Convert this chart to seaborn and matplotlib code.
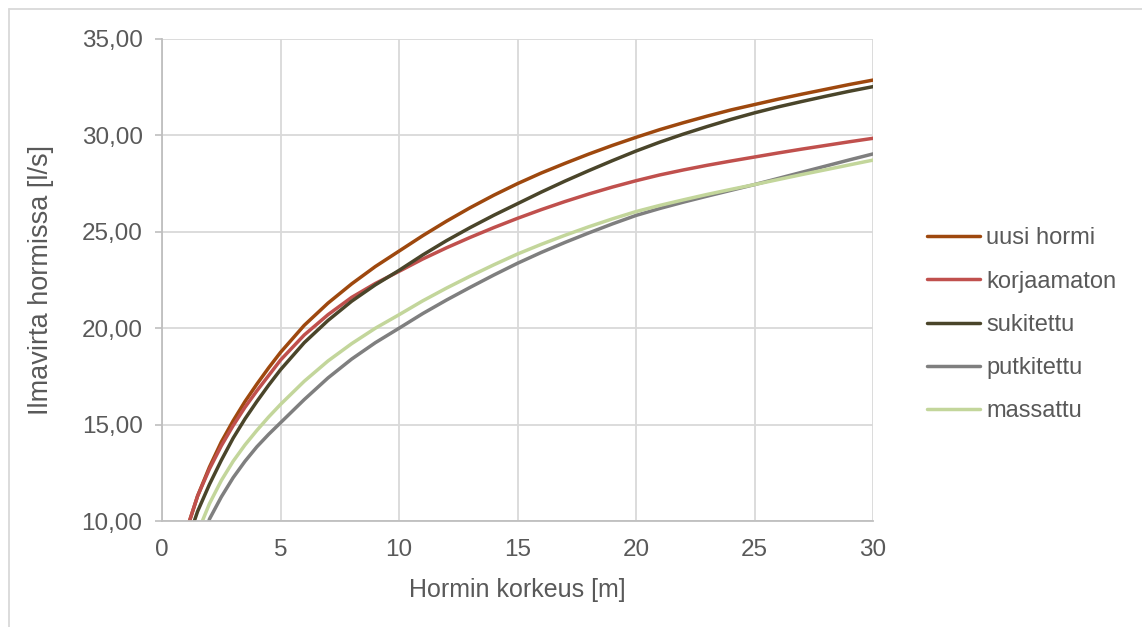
import matplotlib
matplotlib.use("Agg")
import pandas as pd
import matplotlib.pyplot as plt
import seaborn as sns
from matplotlib.lines import Line2D
from matplotlib.ticker import FuncFormatter, MultipleLocator

# Hormin korkeus [m]
height_m = [1, 1.5, 2, 2.5, 3, 3.5, 4, 4.5, 5, 6, 7, 8, 9, 10, 11, 12, 13, 14, 15,
            16, 17, 18, 19, 20, 21, 22, 23, 24, 25, 26, 27, 28, 29, 30]

# Ilmavirta hormissa [l/s]
uusi_hormi = [9.4, 11.3, 12.8, 14.1, 15.2, 16.2, 17.1, 17.95, 18.75, 20.15, 21.3, 22.3, 23.2,
              24.0, 24.8, 25.55, 26.25, 26.9, 27.5, 28.05, 28.55, 29.03, 29.48, 29.9,
              30.3, 30.66, 31.0, 31.32, 31.6, 31.88, 32.14, 32.39, 32.64, 32.87]
korjaamaton = [9.4, 11.3, 12.7, 13.9, 14.95, 15.9, 16.75, 17.55, 18.35, 19.65, 20.7, 21.6,
               22.32, 22.95, 23.59, 24.17, 24.71, 25.22, 25.7, 26.15, 26.57, 26.96, 27.32,
               27.65, 27.95, 28.21, 28.45, 28.67, 28.88, 29.09, 29.29, 29.48, 29.67, 29.85]
sukitettu = [8.7, 10.5, 11.9, 13.15, 14.3, 15.3, 16.2, 17.05, 17.85, 19.25, 20.4, 21.4, 22.25,
             23.0, 23.8, 24.54, 25.22, 25.86, 26.46, 27.06, 27.63, 28.17, 28.69, 29.19,
             29.65, 30.07, 30.46, 30.83, 31.17, 31.48, 31.76, 32.03, 32.29, 32.53]
putkitettu = [5.5, 8.0, 10.1, 11.25, 12.25, 13.1, 13.85, 14.5, 15.1, 16.3, 17.42, 18.4,
              19.25, 20.0, 20.76, 21.46, 22.12, 22.76, 23.37, 23.93, 24.45, 24.94, 25.41,
              25.85, 26.21, 26.54, 26.85, 27.15, 27.45, 27.77, 28.09, 28.41, 28.73, 29.04]
massattu = [7.3, 9.4, 10.9, 12.1, 13.1, 13.95, 14.7, 15.4, 16.05, 17.25, 18.3, 19.2, 20.0,
            20.7, 21.42, 22.08, 22.7, 23.29, 23.85, 24.35, 24.82, 25.26, 25.67, 26.05,
            26.37, 26.66, 26.94, 27.2, 27.45, 27.71, 27.97, 28.22, 28.47, 28.72]

series_names = ["uusi hormi", "korjaamaton", "sukitettu", "putkitettu", "massattu"]
series_values = [uusi_hormi, korjaamaton, sukitettu, putkitettu, massattu]
colors = ["#9E480E", "#C0504D", "#4A452A", "#7F7F7F", "#C3D69B"]

df = pd.concat(
    [pd.DataFrame({"x": height_m, "y": vals, "sarja": name})
     for name, vals in zip(series_names, series_values)],
    ignore_index=True,
)

sns.set_theme(style="white")
plt.rcParams["font.family"] = ["Liberation Sans", "DejaVu Sans"]
text_col = "#595959"

fig = plt.figure(figsize=(11.42, 6.27), dpi=100)
ax = fig.add_axes([0.1419, 0.169, 0.7645 - 0.1419, 0.9378 - 0.169])

sns.lineplot(data=df, x="x", y="y", hue="sarja", hue_order=series_names,
             palette=colors, linewidth=2.5, ax=ax, legend=True)

ax.set_xlim(0, 30)
ax.set_ylim(10, 35)
ax.xaxis.set_major_locator(MultipleLocator(5))
ax.yaxis.set_major_locator(MultipleLocator(5))
ax.yaxis.set_major_formatter(FuncFormatter(lambda v, p: f"{v:.2f}".replace(".", ",")))
ax.grid(True, color="#D9D9D9", linewidth=1.3)
ax.set_axisbelow(True)
for side in ["top", "right"]:
    ax.spines[side].set_visible(False)
for side in ["left", "bottom"]:
    ax.spines[side].set_color("#BFBFBF")
    ax.spines[side].set_linewidth(1.3)

ax.tick_params(axis="y", length=5, width=1.2, color="#BFBFBF", labelsize=17.5,
               labelcolor=text_col, pad=9, left=True)
ax.tick_params(axis="x", length=0, labelsize=17.5, labelcolor=text_col, pad=13)

ax.set_xlabel("Hormin korkeus [m]", fontsize=18, color=text_col, labelpad=12)
ax.set_ylabel("Ilmavirta hormissa [l/s]", fontsize=19.5, color=text_col, labelpad=20)

handles, labels = ax.get_legend_handles_labels()
ax.legend(handles, labels, loc="center left", bbox_to_anchor=(1.076, 0.407), frameon=False,
          fontsize=17, labelcolor=text_col, handlelength=2.25, handletextpad=0.25,
          labelspacing=0.9, borderpad=0, borderaxespad=0)

# chart area border (top and left edges visible)
fig.add_artist(Line2D([9 / 1142, 1], [1 - 9 / 627, 1 - 9 / 627], color="#D9D9D9", lw=1.3))
fig.add_artist(Line2D([9 / 1142, 9 / 1142], [0, 1 - 9 / 627], color="#D9D9D9", lw=1.3))

fig.savefig("out.png", dpi=100)
